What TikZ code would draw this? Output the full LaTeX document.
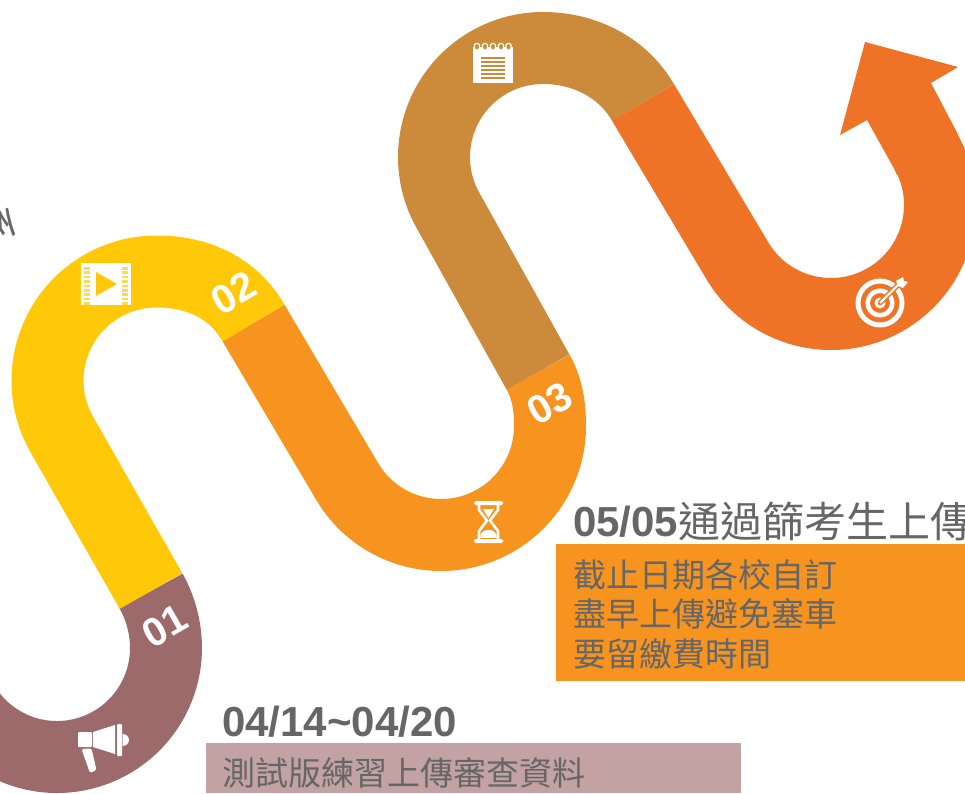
\documentclass[tikz,border=0pt]{standalone}
\usepackage{fontspec}
\usetikzlibrary{calc}
\setmainfont{Liberation Sans}
\newfontfamily\cjk{Noto Sans CJK TC}
\definecolor{cMauve}{HTML}{9C6A6A}
\definecolor{cYellow}{HTML}{FFC90A}
\definecolor{cOrange}{HTML}{F79420}
\definecolor{cBrown}{HTML}{CC8B3A}
\definecolor{cDeep}{HTML}{EE7326}
\definecolor{cBoxM}{HTML}{C2A2A2}
\definecolor{cTxt}{HTML}{666666}
\tikzset{
  ribbon/.style={line width=72pt,line cap=butt,line join=round},
  numlabel/.style={text=white,font=\fontsize{40}{40}\selectfont\bfseries,rotate=30,inner sep=0pt},
  datelabel/.style={text=cTxt,font=\fontsize{42}{42}\selectfont,anchor=base west,inner sep=0pt},
  bodytext/.style={text=cTxt,font=\cjk\fontsize{33}{39.5}\selectfont,anchor=north west,inner sep=0pt,align=left},
}
\begin{document}
\begin{tikzpicture}[x=1pt,y=1pt]
\useasboundingbox (0,0) rectangle (965,793);
\clip (0,0) rectangle (965,793);
% ribbon (y-up coordinates, radius 109); seams at (151,202) (253.5,470) (538,421) (643,690.5)
\draw[ribbon,cOrange] (253.5,470) -- ($(441,367)+(210:109)$) arc (210:360:109)
   .. controls (550,386) and (547.5,404.5) .. (538,421);
\draw[ribbon,cMauve]  ($(57,145)+(200:109)$) arc (200:360:109)
   .. controls (166,165) and (160.5,185.5) .. (151,202);
\draw[ribbon,cYellow] (151,202) -- ($(156.5,412.5)+(210:109)$) arc (210:90:109)
   .. controls (197.5,521.5) and (233,505.5) .. (253.5,470);
\draw[ribbon,cBrown]  (538,421) -- ($(543,636)+(210:109)$) arc (210:90:109)
   .. controls (584,745) and (622.5,726) .. (643,690.5);
\draw[ribbon,cDeep]   (643,690.5) -- ($(831,588)+(210:109)$) arc (210:390:109);
\fill[cDeep] (865,751) -- (958,726) -- (931,710) -- (957,660.5) -- (961,650) -- (897,618)
   -- (894,624.5) -- (867,673) -- (840,658) -- cycle;
% cut-off rotated glyph at the left edge
\node[text=cTxt,font=\cjk\fontsize{42}{42}\selectfont,rotate=-90,inner sep=0pt] (g) at (-3,567) {系};
% heading under the box edge
\node[datelabel] (d2) at (573,257) {\bfseries 05/05\cjk\mdseries\raisebox{-1.5pt}{通過篩考生上傳}};
% boxes
\fill[cOrange] (556,112) rectangle (965,249);
\fill[cBoxM] (206,0) rectangle (741,50);
% numbers
\node[numlabel] (n1) at (165,167) {01};
\node[numlabel] (n2) at (233.5,500) {02};
\node[numlabel] (n3) at (550,389.5) {03};
% texts
\node[datelabel] (d1) at (222,57) {\bfseries 04/14\textasciitilde 04/20};
\node[bodytext] (b1) at (573,234) {截止日期各校自訂\\盡早上傳避免塞車\\要留繳費時間};
\node[bodytext] (b2) at (222,36) {測試版練習上傳審查資料};
% film icon
\fill[white] (81,530) rectangle (131,488);
\foreach \yy in {0,...,8}{
  \fill[cYellow!70!white] (84.3,{526-\yy*4.4}) rectangle (90,{523.4-\yy*4.4});
  \fill[cYellow!70!white] (122,{526-\yy*4.4}) rectangle (127.5,{523.4-\yy*4.4});
}
\fill[cYellow] (96,521) -- (117,509) -- (96,497) -- cycle;
% megaphone icon
\fill[white,rounded corners=1pt] (78,61) rectangle (92,46);
\fill[white] (93,61) -- (115,68) -- (115,39) -- (93,46) -- cycle;
\fill[white,rounded corners=1pt] (117,69) rectangle (122,37);
\fill[white] (122.5,59) arc (90:-90:6.5 and 6) -- cycle;
\fill[white,rounded corners=1.5pt] (81.5,44) -- (91.5,44.5) -- (96.5,23) -- (90,20) -- cycle;
% hourglass icon
\fill[white,rounded corners=1.5pt] (474,292) rectangle (503,288);
\fill[white,rounded corners=1.5pt] (474,254) rectangle (503,250);
\draw[white,line width=2.6pt] (479,288) -- (479,283) -- (487,272.5) -- (479,262) -- (479,254);
\draw[white,line width=2.6pt] (498,288) -- (498,283) -- (490,272.5) -- (498,262) -- (498,254);
\fill[white] (483,284) -- (494,284) -- (488.5,275) -- cycle;
\fill[white] (480,255) .. controls (480,266) and (497,266) .. (497,255) -- cycle;
% notebook icon
\fill[white] (473,746) rectangle (513,710);
\foreach \xx in {477,485,493,501,508.5}{
  \draw[white,line width=1.3pt,fill=cBrown,rounded corners=1.5pt] (\xx-2.5,743) rectangle (\xx+2.5,749.5);
}
\foreach \yy in {58,62,66,70,74,78}{
  \fill[cBrown] (481,793-\yy-.8) rectangle (505,793-\yy+.8);
}
% target icon
\fill[white,even odd rule] (880,490) circle (24.5) (880,490) circle (19.5);
\fill[white,even odd rule] (880,490) circle (14.5) (880,490) circle (10);
\fill[white] (880,490) circle (5.5);
\fill[cDeep] (880,490) circle (2.2);
\draw[cDeep,line width=5pt] (880,490) -- (898,508);
\draw[white,line width=2.2pt] (880,490) -- (898,508);
\fill[white] (896,512) -- (903,516) -- (904,512) -- (908,511) -- (903,505) -- (898,507) -- cycle;
\end{tikzpicture}
\end{document}
